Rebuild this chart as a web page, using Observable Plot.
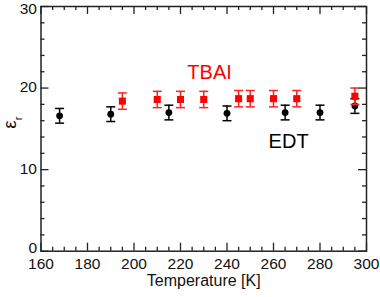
<!DOCTYPE html>
<html>
<head>
<meta charset="utf-8">
<script src="https://cdn.jsdelivr.net/npm/d3@7"></script>
<script src="https://cdn.jsdelivr.net/npm/@observablehq/plot@0.6"></script>
<style>
  html, body { margin: 0; padding: 0; background: #fff; }
  svg { display: block; }
</style>
</head>
<body>
<div id="chart"></div>
<script>
// EDT series (black circles)
const edtTemp = [168, 190, 215, 240, 265, 280, 295];
const edtEps  = [16.6, 16.8, 17.0, 16.9, 17.0, 17.0, 17.8];
const edtErr  = [0.9, 0.9, 0.9, 0.9, 0.9, 0.9, 0.9];
// TBAI series (red squares)
const tbaiTemp = [195, 210, 220, 230, 245, 250, 260, 270, 295];
const tbaiEps  = [18.4, 18.6, 18.6, 18.6, 18.7, 18.7, 18.7, 18.7, 19.0];
const tbaiErr  = [1.0, 1.0, 1.0, 1.0, 1.0, 1.0, 1.0, 1.0, 1.0];
// ticks
const xMajor = [160, 180, 200, 220, 240, 260, 280, 300];
const xMinor = d3.range(160, 301, 5).filter(v => v % 20 !== 0);
const yMajor = [0, 10, 20, 30];
const yMinor = d3.range(0, 31, 2).filter(v => v % 10 !== 0);
// series labels
const seriesLabels = [
  {name: "TBAI", t: 232.5, e: 21.9, color: "#ff0000"},
  {name: "EDT",  t: 266.5, e: 13.4, color: "#000000"}
];

const edt = edtTemp.map((t, i) => ({t, e: edtEps[i], lo: edtEps[i] - edtErr[i], hi: edtEps[i] + edtErr[i]}));
const tbai = tbaiTemp.map((t, i) => ({t, e: tbaiEps[i], lo: tbaiEps[i] - tbaiErr[i], hi: tbaiEps[i] + tbaiErr[i]}));

const W = 380, H = 297;
const mL = 40.5, mR = 14, mT = 6, mB = 46.3;
const iW = W - mL - mR, iH = H - mT - mB;
const MAJ = 8, MIN = 4;
const font = "Liberation Sans, Arial, sans-serif";
const yMax = d3.max(yMajor), yMin = d3.min(yMajor);

const capSymbol = {
  draw(context, size) {
    const r = Math.sqrt(size / Math.PI);
    context.moveTo(-r, 0);
    context.lineTo(r, 0);
  }
};

function errorMarks(data, color) {
  return [
    Plot.ruleX(data, {x: "t", y1: "lo", y2: "hi", stroke: color, strokeWidth: 1.5}),
    Plot.dot(data, {x: "t", y: "lo", symbol: capSymbol, r: 4.5, stroke: color, strokeWidth: 1.5, fill: "none"}),
    Plot.dot(data, {x: "t", y: "hi", symbol: capSymbol, r: 4.5, stroke: color, strokeWidth: 1.5, fill: "none"})
  ];
}

const tickColor = "#222";
const yLab = (vals, dy) => Plot.text(vals, {y: d => d, frameAnchor: "left", dx: -4, dy, textAnchor: "end", text: d => String(d), fontSize: 15.5, fill: "#111"});
const chart = Plot.plot({
  width: W, height: H,
  marginLeft: mL, marginRight: mR, marginTop: mT, marginBottom: mB,
  style: {fontFamily: font, background: "#fff"},
  x: {domain: [160, 300], axis: null},
  y: {domain: [0, 30], axis: null},
  marks: [
    // ticks: bottom/top (inward)
    Plot.tickX(xMajor, {x: d => d, insetTop: iH - MAJ, stroke: tickColor, strokeWidth: 1.3}),
    Plot.tickX(xMinor, {x: d => d, insetTop: iH - MIN, stroke: tickColor, strokeWidth: 1.3}),
    Plot.tickX(xMajor, {x: d => d, insetBottom: iH - MAJ, stroke: tickColor, strokeWidth: 1.3}),
    Plot.tickX(xMinor, {x: d => d, insetBottom: iH - MIN, stroke: tickColor, strokeWidth: 1.3}),
    // ticks: left/right (inward)
    Plot.tickY(yMajor, {y: d => d, insetRight: iW - MAJ, stroke: tickColor, strokeWidth: 1.3}),
    Plot.tickY(yMinor, {y: d => d, insetRight: iW - MIN, stroke: tickColor, strokeWidth: 1.3}),
    Plot.tickY(yMajor, {y: d => d, insetLeft: iW - MAJ, stroke: tickColor, strokeWidth: 1.3}),
    Plot.tickY(yMinor, {y: d => d, insetLeft: iW - MIN, stroke: tickColor, strokeWidth: 1.3}),
    Plot.frame({stroke: tickColor, strokeWidth: 1.5}),
    // tick labels
    Plot.text(xMajor, {x: d => d, frameAnchor: "bottom", dy: 18, text: d => String(d), fontSize: 15.5, fill: "#111"}),
    yLab(yMajor.filter(v => v !== yMax && v !== yMin), -1),
    yLab([yMin], -3),
    yLab([yMax], 3),
    // axis titles
    Plot.text(["Temperature [K]"], {frameAnchor: "bottom", dy: 35, text: d => d, fontSize: 16, fill: "#111"}),
    Plot.text(["ε"], {frameAnchor: "left", dx: -31, dy: 0, rotate: -90, text: d => d, fontSize: 19, fill: "#111", className: "ylab"}),
    // error bars and points
    ...errorMarks(edt, "#000"),
    Plot.dot(edt, {x: "t", y: "e", r: 3.4, fill: "#000", stroke: "none"}),
    ...errorMarks(tbai, "#ff2020"),
    Plot.dot(tbai, {x: "t", y: "e", symbol: "square", r: 4, fill: "#ff0000", stroke: "none"}),
    // series labels
    Plot.text(seriesLabels, {x: "t", y: "e", text: "name", fill: "color", fontSize: 20})
  ]
});
// subscript r for the y-axis title
d3.select(chart).selectAll(".ylab text")
  .append("tspan").attr("baseline-shift", "sub").attr("font-size", 11).text("r");
document.getElementById("chart").appendChild(chart);
</script>
</body>
</html>
